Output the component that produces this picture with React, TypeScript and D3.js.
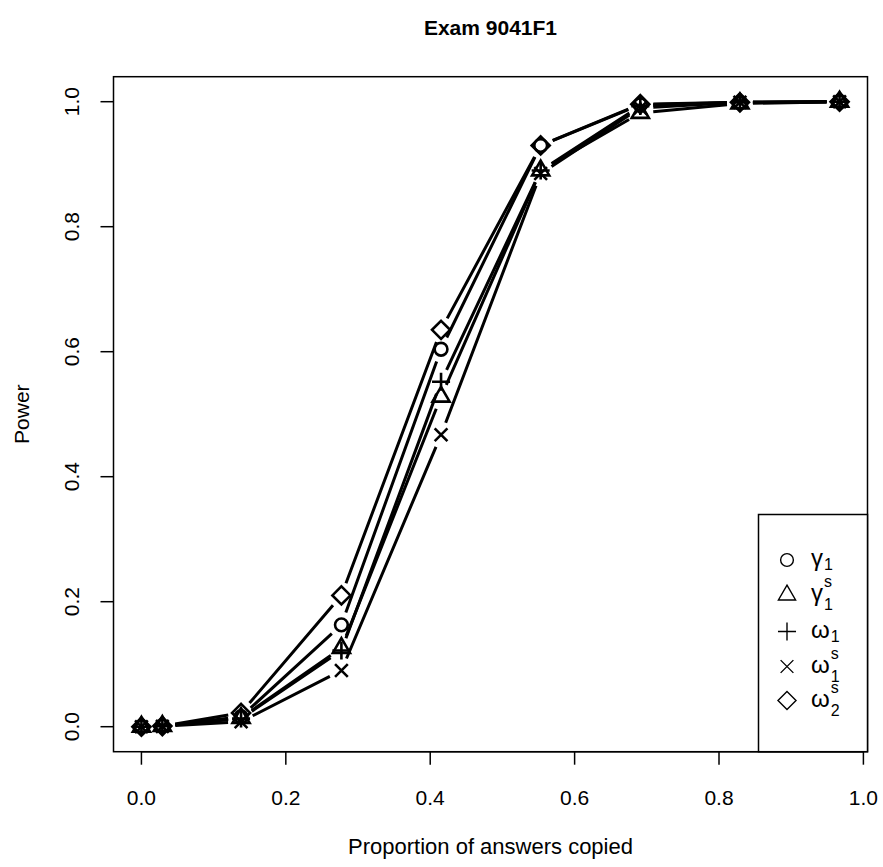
import React from "react";
import * as d3 from "d3";

const xValues = [0, 0.029, 0.138, 0.277, 0.415, 0.553, 0.691, 0.829, 0.967];
const gamma1 = [0, 0.001, 0.016, 0.163, 0.604, 0.93, 0.995, 0.999, 1.0];
const gamma1s = [0, 0.001, 0.014, 0.126, 0.528, 0.89, 0.982, 0.997, 1.0];
const omega1 = [0, 0.001, 0.013, 0.122, 0.552, 0.89, 0.993, 0.999, 1.0];
const omega1s = [0, 0.0005, 0.008, 0.09, 0.467, 0.885, 0.99, 0.999, 1.0];
const omega2s = [0, 0.001, 0.022, 0.21, 0.635, 0.93, 0.996, 0.999, 1.0];

const seriesNames = ["gamma1", "gamma1s", "omega1", "omega1s", "omega2s"];
const seriesValues = [gamma1, gamma1s, omega1, omega1s, omega2s];
const seriesSymbols = ["circle", "triangle", "plus", "cross", "diamond"];
const legendBase = ["γ", "γ", "ω", "ω", "ω"];
const legendSub = ["1", "1", "1", "1", "2"];
const legendSup = ["", "s", "", "s", "s"];

const xTicks = [0, 0.2, 0.4, 0.6, 0.8, 1.0];
const yTicks = [0, 0.2, 0.4, 0.6, 0.8, 1.0];

const title = "Exam 9041F1";
const xTitle = "Proportion of answers copied";
const yTitle = "Power";

const W = 883;
const H = 867;
const L = 113.5;
const R = 867.5;
const T = 76.7;
const B = 751.7;
const FONT = "'Liberation Sans', Arial, Helvetica, sans-serif";
const S = 17; // char size for symbols

function Symbol({ kind, cx, cy, s, sw }: { kind: string; cx: number; cy: number; s: number; sw: number }) {
  const rad = 0.375 * s;
  const common = { fill: "none", stroke: "#000", strokeWidth: sw };
  if (kind === "circle") return <circle cx={cx} cy={cy} r={rad} {...common} />;
  if (kind === "triangle") {
    const r = 1.5551 * rad;
    const xc = 1.3468 * rad;
    const yc = 0.7776 * rad;
    return <polygon points={`${cx},${cy - r} ${cx + xc},${cy + yc} ${cx - xc},${cy + yc}`} {...common} strokeLinejoin="miter" />;
  }
  if (kind === "plus") {
    const xc = Math.SQRT2 * rad;
    return <path d={`M${cx - xc},${cy}H${cx + xc}M${cx},${cy - xc}V${cy + xc}`} {...common} />;
  }
  if (kind === "cross") {
    const xc = rad;
    return <path d={`M${cx - xc},${cy - xc}L${cx + xc},${cy + xc}M${cx - xc},${cy + xc}L${cx + xc},${cy - xc}`} {...common} />;
  }
  const xc = Math.SQRT2 * rad;
  return <polygon points={`${cx},${cy - xc} ${cx + xc},${cy} ${cx},${cy + xc} ${cx - xc},${cy}`} {...common} />;
}

export default function App() {
  const xmin = d3.min(xValues)!;
  const xmax = d3.max(xValues)!;
  const xr = xmax - xmin;
  const x = d3.scaleLinear().domain([xmin - 0.04 * xr, xmax + 0.04 * xr]).range([L, R]);
  const y = d3.scaleLinear().domain([-0.04, 1.04]).range([B, T]);
  const gap = 13;

  const segs = (vals: number[]) => {
    const out: string[] = [];
    for (let i = 1; i < vals.length; i++) {
      const x0 = x(xValues[i - 1]), y0 = y(vals[i - 1]);
      const x1 = x(xValues[i]), y1 = y(vals[i]);
      const dist = Math.hypot(x1 - x0, y1 - y0);
      if (dist <= 2 * gap) continue;
      const f = gap / dist;
      out.push(`M${x0 + f * (x1 - x0)},${y0 + f * (y1 - y0)}L${x1 - f * (x1 - x0)},${y1 - f * (y1 - y0)}`);
    }
    return out.join("");
  };

  const legendRowsY = [560, 595, 631.5, 666.5, 700.5];
  const legL = 758.5;
  const legT = 514.5;
  const symX = 787;
  const textX = 811;
  const subSize = 16;
  const baseSize = 24;
  const subW = 0.556 * subSize;

  return (
    <svg width={W} height={H} style={{ position: "absolute", left: 0, top: 0, background: "#fff" }} fontFamily={FONT}>
      <rect x={0} y={0} width={W} height={H} fill="#fff" />
      <text x={(L + R) / 2} y={35} textAnchor="middle" fontWeight="bold" fontSize={21}>{title}</text>

      {/* lines */}
      {seriesValues.map((vals, i) => (
        <path key={seriesNames[i]} d={segs(vals)} fill="none" stroke="#000" strokeWidth={3} strokeLinecap="butt" />
      ))}
      {/* points */}
      {seriesValues.map((vals, i) =>
        vals.map((v, j) => (
          <Symbol key={`${i}-${j}`} kind={seriesSymbols[i]} cx={x(xValues[j])} cy={y(v)} s={S} sw={2.6} />
        ))
      )}

      {/* box */}
      <rect x={L} y={T} width={R - L} height={B - T} fill="none" stroke="#000" strokeWidth={1.5} />

      {/* x axis */}
      <line x1={x(xTicks[0])} x2={x(xTicks[xTicks.length - 1])} y1={B} y2={B} stroke="#000" strokeWidth={1.5} />
      {xTicks.map((t) => (
        <g key={`xt${t}`}>
          <line x1={x(t)} x2={x(t)} y1={B} y2={B + 13} stroke="#000" strokeWidth={1.5} />
          <text x={x(t)} y={805} textAnchor="middle" fontSize={21}>{t.toFixed(1)}</text>
        </g>
      ))}
      {/* y axis */}
      {yTicks.map((t) => (
        <g key={`yt${t}`}>
          <line x1={L - 13} x2={L} y1={y(t)} y2={y(t)} stroke="#000" strokeWidth={1.5} />
          <text transform={`translate(79,${y(t)}) rotate(-90)`} textAnchor="middle" fontSize={21}>{t.toFixed(1)}</text>
        </g>
      ))}
      <text x={(L + R) / 2} y={854} textAnchor="middle" fontSize={22}>{xTitle}</text>
      <text transform={`translate(29,${(T + B) / 2}) rotate(-90)`} textAnchor="middle" fontSize={21}>{yTitle}</text>

      {/* legend */}
      <rect x={legL} y={legT} width={R - legL} height={B - legT} fill="#fff" stroke="#000" strokeWidth={1.5} />
      {seriesNames.map((n, i) => {
        const cy = legendRowsY[i];
        const base = cy + 6;
        const hasSup = legendSup[i] !== "";
        const subDy = hasSup ? 9 : 4;
        return (
          <g key={`lg${n}`}>
            <Symbol kind={seriesSymbols[i]} cx={symX} cy={cy} s={S} sw={1.4} />
            <text x={textX} y={base} fontSize={baseSize}>
              <tspan>{legendBase[i]}</tspan>
              <tspan fontSize={subSize} dx={1} dy={subDy}>{legendSub[i]}</tspan>
              {hasSup && (
                <tspan fontSize={subSize} dx={-subW} dy={-subDy - 14}>{legendSup[i]}</tspan>
              )}
            </text>
          </g>
        );
      })}
    </svg>
  );
}
